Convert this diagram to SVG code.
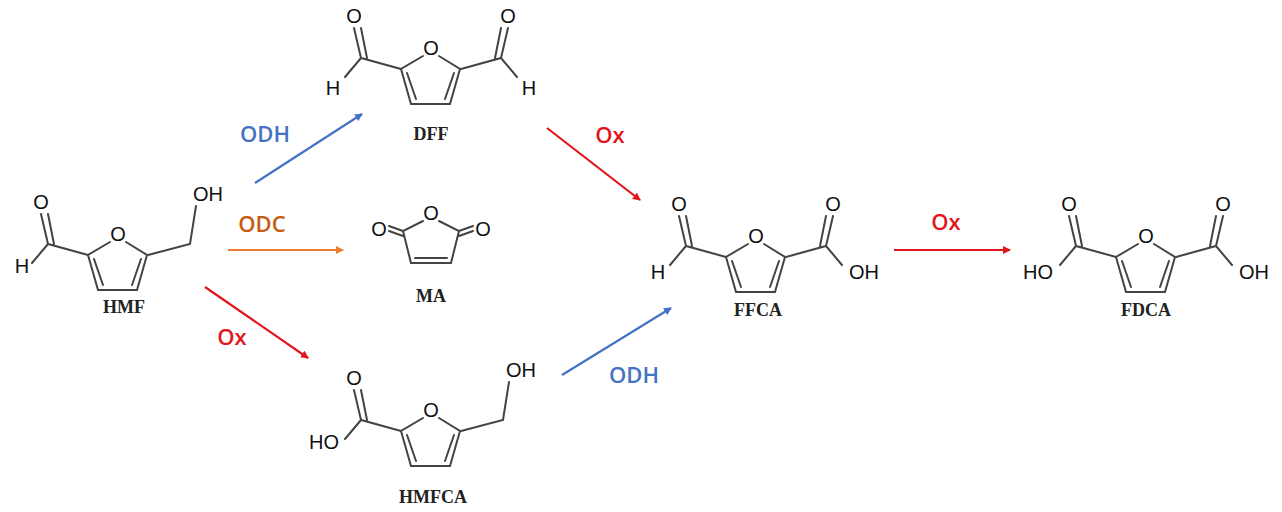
<svg xmlns="http://www.w3.org/2000/svg" xmlns:xlink="http://www.w3.org/1999/xlink" width="1282" height="512" viewBox="0 0 1282 512">
<style>
.b{stroke:#444;stroke-width:2;fill:none;stroke-linecap:round}
.a{font-family:"Liberation Sans",Arial,sans-serif;font-size:20px;fill:#111;text-anchor:middle;dominant-baseline:central}
.n{font-family:"Liberation Serif","Times New Roman",serif;font-weight:bold;font-size:18px;fill:#222;text-anchor:middle}
.r{font-family:"Open Sans","Liberation Sans",sans-serif;font-size:22px;font-weight:600;text-anchor:middle}
.c{stroke-width:2.2;fill:none}
</style>
<defs>
<g id="furan">
<path class="b" d="M-8,8 L-30,21 L-20,56 L19,56 L29,21 L8,8 M-24,25 L-15,51 M23,25 L14,51"/>
<text class="a" x="0" y="0">O</text>
</g>
<g id="lcho">
<path class="b" d="M-30,21 L-70,10 L-86,29 M-70,10 L-77,-20 M-64,10 L-70,-20"/>
<text class="a" x="-77" y="-32">O</text>
</g>
<g id="rcho">
<path class="b" d="M30,21 L70,10 L86,29 M70,10 L77,-20 M64,10 L70,-20"/>
<text class="a" x="77" y="-32">O</text>
</g>
<marker id="mb" markerWidth="8" markerHeight="8" refX="7" refY="4" orient="auto" markerUnits="userSpaceOnUse"><path d="M0,0 L8,4 L0,8 z" fill="#4472C4"/></marker>
<marker id="mo" markerWidth="8" markerHeight="8" refX="7" refY="4" orient="auto" markerUnits="userSpaceOnUse"><path d="M0,0 L8,4 L0,8 z" fill="#ED7D31"/></marker>
<marker id="mr" markerWidth="8" markerHeight="8" refX="7" refY="4" orient="auto" markerUnits="userSpaceOnUse"><path d="M0,0 L8,4 L0,8 z" fill="#E3141B"/></marker>
</defs>
<rect width="1282" height="512" fill="#fff"/>

<g id="HMF" transform="translate(118,234)">
<use xlink:href="#furan"/><use xlink:href="#lcho"/>
<text class="a" x="-96" y="32">H</text>
<path class="b" d="M30,21 L72,10 L78,-28"/>
<text class="a" x="90" y="-40">OH</text>
<text class="n" x="6" y="79">HMF</text>
</g>

<g id="DFF" transform="translate(431,48)">
<use xlink:href="#furan"/><use xlink:href="#lcho"/><use xlink:href="#rcho"/>
<text class="a" x="-98" y="40">H</text>
<text class="a" x="98" y="40">H</text>
<text class="n" x="0" y="92">DFF</text>
</g>

<g id="MA" transform="translate(431,213)">
<path class="b" d="M-8,8 L-28,18 L-20,50 L20,50 L28,18 L8,8 M-16,45 L16,45 M-28,18 L-42,13 M-28,23 L-42,18 M28,18 L42,13 M28,23 L42,18"/>
<text class="a" x="0" y="0">O</text>
<text class="a" x="-52" y="16">O</text>
<text class="a" x="52" y="16">O</text>
<text class="n" x="0" y="89">MA</text>
</g>

<g id="HMFCA" transform="translate(431,410)">
<use xlink:href="#furan"/><use xlink:href="#lcho"/>
<text class="a" x="-107" y="32">HO</text>
<path class="b" d="M30,21 L72,10 L78,-28"/>
<text class="a" x="90" y="-40">OH</text>
<text class="n" x="2" y="93">HMFCA</text>
</g>

<g id="FFCA" transform="translate(756,236)">
<use xlink:href="#furan"/><use xlink:href="#lcho"/><use xlink:href="#rcho"/>
<text class="a" x="-98" y="36">H</text>
<text class="a" x="108" y="36">OH</text>
<text class="n" x="2" y="80">FFCA</text>
</g>

<g id="FDCA" transform="translate(1146,236)">
<use xlink:href="#furan"/><use xlink:href="#lcho"/><use xlink:href="#rcho"/>
<text class="a" x="-108" y="36">HO</text>
<text class="a" x="108" y="36">OH</text>
<text class="n" x="0" y="80">FDCA</text>
</g>

<g id="connectors">
<line class="c" stroke="#4472C4" x1="255" y1="183" x2="362" y2="114" marker-end="url(#mb)"/>
<line class="c" stroke="#ED7D31" x1="228" y1="250" x2="343" y2="250" marker-end="url(#mo)"/>
<line class="c" stroke="#E3141B" x1="205" y1="287" x2="308" y2="358" marker-end="url(#mr)"/>
<line class="c" stroke="#E3141B" x1="547" y1="128" x2="640" y2="200" marker-end="url(#mr)"/>
<line class="c" stroke="#4472C4" x1="562" y1="375" x2="671" y2="308" marker-end="url(#mb)"/>
<line class="c" stroke="#E3141B" x1="894" y1="250" x2="1010" y2="250" marker-end="url(#mr)"/>
<text class="r" x="265" y="142" fill="#4472C4">ODH</text>
<text class="r" x="262" y="232" fill="#C55A11">ODC</text>
<text class="r" x="232" y="345" fill="#E3141B">Ox</text>
<text class="r" x="610" y="143" fill="#E3141B">Ox</text>
<text class="r" x="634" y="383" fill="#4472C4">ODH</text>
<text class="r" x="946" y="230" fill="#E3141B">Ox</text>
</g>
</svg>
